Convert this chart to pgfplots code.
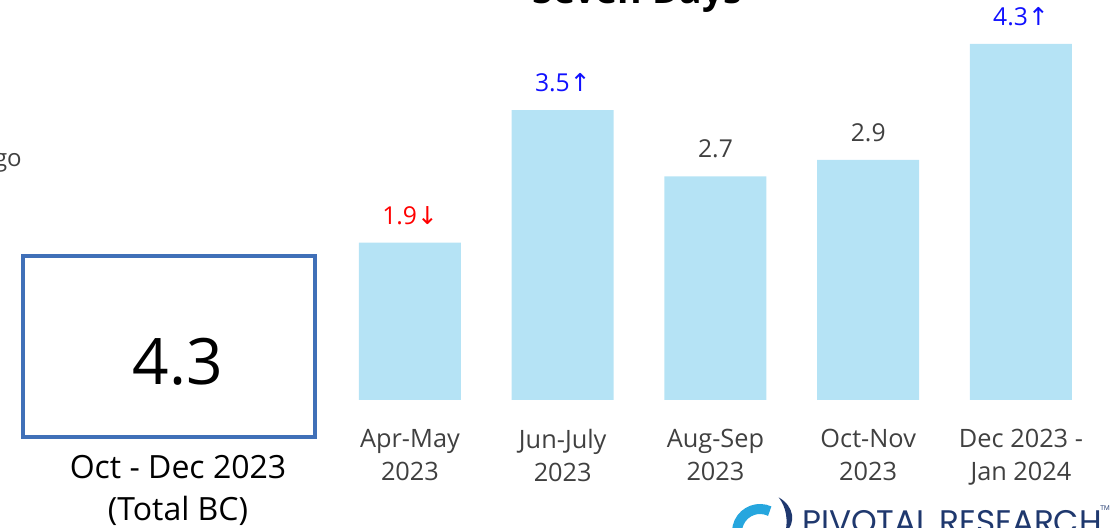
\documentclass[border=0pt]{standalone}
\usepackage{pgfplots}
\pgfplotsset{compat=1.18}
\usepackage{fontspec}
\setmainfont{Open Sans}
\newfontfamily\djv{DejaVu Sans}
\newfontfamily\logofont{Poppins}
\definecolor{barblue}{RGB}{181,227,245}
\definecolor{txtgrey}{RGB}{64,64,64}
\definecolor{boxblue}{RGB}{64,112,184}
\definecolor{lblblue}{RGB}{16,16,255}
\definecolor{navy}{RGB}{31,56,110}
\definecolor{logoblue}{RGB}{38,166,222}
\begin{document}
\begin{tikzpicture}
\useasboundingbox (0,0) rectangle (833.25pt,396pt);
\begin{axis}[
  at={(250.2pt,96pt)}, anchor=south west,
  scale only axis, width=572.8pt, height=267pt,
  xmin=-0.5, xmax=4.5, ymin=0, ymax=4.3,
  clip=false,
  ybar, bar width=76.5pt,
  axis x line*=bottom, hide y axis,
  x axis line style={draw=none},
  major tick length=0pt,
  xtick=data,
  xticklabels={{Apr-May\\2023},{Jun-July\\2023},{Aug-Sep\\2023},{Oct-Nov\\2023},{Dec 2023 -\\Jan 2024}},
  xticklabel style={align=center, anchor=north, inner sep=0pt, yshift=-22pt,
    text=txtgrey, font=\fontsize{19pt}{24.75pt}\selectfont},
  nodes near coords,
  point meta=explicit symbolic,
  every node near coord/.append style={anchor=base, yshift=14pt, inner sep=0pt,
    font=\fontsize{18.5pt}{22pt}\selectfont, text=txtgrey},
]
\addplot[fill=barblue, draw=none] coordinates {
  (0,1.9) [\textcolor{red}{1.9{\djv ↓}}]
  (1,3.5) [\textcolor{lblblue}{3.5{\djv ↑}}]
  (2,2.7) [2.7]
  (3,2.9) [2.9]
  (4,4.3) [\textcolor{lblblue}{4.3{\djv ↑}}]
};
\end{axis}
% KPI box
\draw[boxblue, line width=2.4pt] (17.25pt,68.25pt) rectangle (236.25pt,204pt);
\node[font=\fontsize{48pt}{56pt}\selectfont, text=black] at (133.5pt,124.5pt) {4.3};
\node[font=\fontsize{24pt}{28pt}\selectfont, text=black] at (133.5pt,45.75pt) {Oct - Dec 2023};
\node[font=\fontsize{24pt}{28pt}\selectfont, text=black] at (133.5pt,12.5pt) {(Total BC)};
% clipped texts
\node[anchor=east, inner sep=0pt, font=\fontsize{18pt}{22pt}\selectfont, text=txtgrey] at (16.5pt,273.5pt) {ago};
\node[anchor=base, inner sep=0pt, font=\fontsize{28pt}{32pt}\selectfont\bfseries] at (478pt,393pt) {Seven Days};
% logo
\draw[logoblue, line width=7.5pt] (570pt,-3pt) ++(65:17.25pt) arc[start angle=65, end angle=200, radius=17.25pt];
\fill[navy] (584pt,23pt) .. controls (596pt,16pt) and (597pt,4pt) .. (589pt,-4pt) .. controls (591pt,6pt) and (590pt,15pt) .. (584pt,23pt);
\node[anchor=base west, inner sep=0pt, font=\logofont\fontsize{24.5pt}{28pt}\selectfont, text=navy] at (601.5pt,-4.5pt) {PIVOTAL RESEARCH};
\node[anchor=north west, inner sep=0pt, font=\fontsize{5pt}{6pt}\selectfont, text=navy] at (825pt,17pt) {TM};
\end{tikzpicture}
\end{document}
